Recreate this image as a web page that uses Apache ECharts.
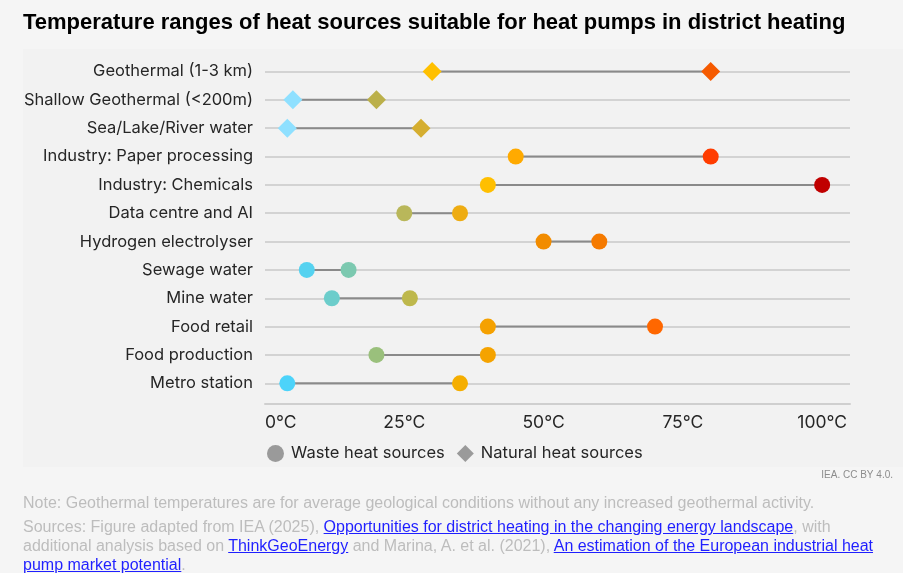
<!DOCTYPE html>
<html>
<head>
<meta charset="utf-8">
<script src="https://cdn.jsdelivr.net/npm/echarts@6/dist/echarts.min.js"></script>
<style>
  html, body { margin: 0; padding: 0; background: #f5f5f5; width: 903px; height: 573px; overflow: hidden; }
  #panel { position: absolute; left: 23px; top: 49px; width: 880px; height: 418px; background: #f2f2f2; }
  #chart { position: absolute; left: 0; top: 0; width: 903px; height: 573px; }
  #notes { position: absolute; left: 23px; top: 493px; width: 878px; font-family: "Liberation Sans", Arial, sans-serif; font-size: 16px; color: #bdbdbd; line-height: 19px; white-space: nowrap; }
  #notes p { margin: 0; }
  #notes p.src { margin-top: 5px; }
  #notes a { color: #1f1fff; text-decoration: underline; }
</style>
</head>
<body>
<div id="panel"></div>
<div id="chart"></div>
<div id="notes">
  <p>Note: Geothermal temperatures are for average geological conditions without any increased geothermal activity.</p>
  <p class="src">Sources: Figure adapted from IEA (2025), <a href="#">Opportunities for district heating in the changing energy landscape</a>, with<br>additional analysis based on <a href="#">ThinkGeoEnergy</a> and Marina, A. et al. (2021), <a href="#">An estimation of the European industrial heat</a><br><a href="#">pump market potential</a>.</p>
</div>
<script>
// ---- data ----
const categories = [
  'Geothermal (1-3 km)', 'Shallow Geothermal (<200m)', 'Sea/Lake/River water',
  'Industry: Paper processing', 'Industry: Chemicals', 'Data centre and AI',
  'Hydrogen electrolyser', 'Sewage water', 'Mine water', 'Food retail',
  'Food production', 'Metro station'
];
const lowTemps  = [30, 5, 4, 45, 40, 25, 50, 7.5, 12, 40, 20, 4];
const highTemps = [80, 20, 28, 80, 100, 35, 60, 15, 26, 70, 40, 35];
const sourceTypes = ['Natural', 'Natural', 'Natural', 'Waste', 'Waste', 'Waste',
  'Waste', 'Waste', 'Waste', 'Waste', 'Waste', 'Waste'];
const xTicks = [0, 25, 50, 75, 100];

// ---- styles (marker colours per row) ----
const lowColors  = ['#ffc000', '#8fe0ff', '#8fe0ff', '#ffaa00', '#ffbf00', '#b9b75a',
  '#f28c00', '#55d2f0', '#6ccdcb', '#f5a100', '#9ac07c', '#4cd3fa'];
const highColors = ['#f55a00', '#bbb04a', '#d5ae30', '#ff3c00', '#c00000', '#eeac12',
  '#f57a00', '#7cc9b0', '#beb84c', '#ff6700', '#f5a300', '#f5ae00'];

function points(type) {
  const out = [];
  categories.forEach((c, i) => {
    if (sourceTypes[i] !== type) return;
    out.push({ value: [lowTemps[i], i], itemStyle: { color: lowColors[i] } });
    out.push({ value: [highTemps[i], i], itemStyle: { color: highColors[i] } });
  });
  return out;
}

const chart = echarts.init(document.getElementById('chart'), null, { renderer: 'canvas' });
chart.setOption({
  backgroundColor: 'transparent',
  animation: false,
  title: {
    text: 'Temperature ranges of heat sources suitable for heat pumps in district heating',
    left: 18, top: 7,
    textStyle: { fontFamily: 'Liberation Sans', fontWeight: 'bold', fontSize: 22, color: '#000' }
  },
  graphic: [{
    type: 'text', right: 10, top: 470,
    style: { text: 'IEA. CC BY 4.0.', font: '10px "Liberation Sans Narrow", "Liberation Sans", sans-serif', fill: '#8c8c8c' }
  }],
  legend: {
    left: 262, top: 440,
    itemWidth: 17, itemHeight: 17, itemGap: 12,
    textStyle: { fontFamily: 'Inter', fontSize: 16.5, color: '#262626', padding: [0, 0, 0, 2] },
    data: [
      { name: 'Waste heat sources', icon: 'circle' },
      { name: 'Natural heat sources', icon: 'diamond' }
    ]
  },
  grid: { left: 265, right: 53, top: 71.5, bottom: 189.7, containLabel: false },
  xAxis: {
    type: 'value', min: 0, max: 105, interval: 25,
    offset: 20,
    axisLine: { show: true, lineStyle: { color: '#cfcfcf', width: 2 } },
    axisTick: { show: false },
    splitLine: { show: false },
    axisLabel: {
      fontFamily: 'Inter', fontSize: 17.5, color: '#262626', margin: 10,
      alignMinLabel: 'left', showMaxLabel: false,
      formatter: v => xTicks.includes(v) ? v + '°C' : ''
    }
  },
  yAxis: {
    type: 'category', data: categories, inverse: true, boundaryGap: false,
    axisLine: { show: false }, axisTick: { show: false },
    splitLine: { show: true, lineStyle: { color: '#d3d3d3', width: 2 } },
    axisLabel: { fontFamily: 'Inter', fontSize: 16.5, color: '#262626', margin: 12 }
  },
  series: [
    {
      name: 'base', type: 'bar', stack: 'range', silent: true, barWidth: 2,
      itemStyle: { color: 'transparent' },
      data: lowTemps
    },
    {
      name: 'range', type: 'bar', stack: 'range', silent: true, barWidth: 2,
      itemStyle: { color: '#8a8a8a' },
      data: highTemps.map((h, i) => h - lowTemps[i])
    },
    {
      name: 'Waste heat sources', type: 'scatter', symbol: 'circle', symbolSize: 16,
      itemStyle: { color: '#9a9a9a', opacity: 1 }, z: 5,
      data: points('Waste')
    },
    {
      name: 'Natural heat sources', type: 'scatter', symbol: 'diamond', symbolSize: 19,
      itemStyle: { color: '#9a9a9a', opacity: 1 }, z: 5,
      data: points('Natural')
    }
  ]
});
</script>
</body>
</html>
